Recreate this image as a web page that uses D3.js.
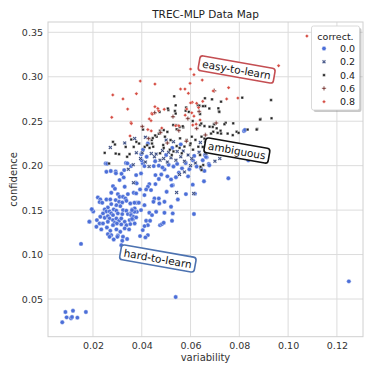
<!DOCTYPE html>
<html><head><meta charset="utf-8">
<script src="https://cdn.jsdelivr.net/npm/d3@7"></script>
<style>body{margin:0;background:#fff}svg{display:block}text{font-family:"DejaVu Sans",sans-serif}</style>
</head><body><svg id="c" width="374" height="374"></svg>
<script>
const title = "TREC-MLP Data Map";
const xLabel = "variability", yLabel = "confidence";
const xTicks = [0.02,0.04,0.06,0.08,0.10,0.12];
const yTicks = [0.05,0.10,0.15,0.20,0.25,0.30,0.35];
const classes = ["0.0","0.2","0.4","0.6","0.8"];
const colors = ["#4c6fd8","#3a4c80","#222222","#7b3a37","#d64f45"];

// correctness 0.0
const pts00 = [
[0.0074,0.0238],[0.0087,0.0354],[0.0092,0.0294],[0.0110,0.0283],[0.0114,0.0297],[0.0118,0.0368],[0.0136,0.0290],[0.0171,0.0354],
[0.0151,0.1120],[0.0539,0.0522],[0.1249,0.0699],
[0.0614,0.1456],[0.0755,0.1858],[0.0655,0.1824],[0.0609,0.1786],[0.0581,0.1680],[0.0618,0.1685],[0.0837,0.2060],[0.0819,0.2390],[0.0666,0.2094],[0.0675,0.2019],[0.0823,0.2401],
[0.0255,0.1931],[0.0293,0.1935],[0.0317,0.1909],[0.0326,0.1868],[0.0309,0.1838],[0.0375,0.1808],[0.0282,0.1770],[0.0290,0.1740],[0.0330,0.1763],
[0.0275,0.1695],[0.0302,0.1680],[0.0343,0.1680],[0.0367,0.1695],[0.0309,0.1650],[0.0323,0.1650],[0.0333,0.1631],[0.0220,0.1643],[0.0230,0.1620],
[0.0255,0.1620],[0.0271,0.1620],[0.0293,0.1613],[0.0307,0.1594],[0.0320,0.1586],[0.0337,0.1605],[0.0353,0.1575],[0.0380,0.1583],[0.0227,0.1590],
[0.0238,0.1583],[0.0275,0.1568],[0.0296,0.1556],[0.0312,0.1545],[0.0261,0.1530],[0.0248,0.1508],[0.0255,0.1485],[0.0268,0.1485],[0.0285,0.1508],
[0.0296,0.1493],[0.0323,0.1500],[0.0337,0.1493],[0.0361,0.1508],[0.0371,0.1519],[0.0196,0.1508],[0.0201,0.1485],[0.0241,0.1463],[0.0275,0.1463],
[0.0282,0.1444],[0.0302,0.1463],[0.0320,0.1455],[0.0343,0.1455],[0.0357,0.1470],[0.0380,0.1481],[0.0216,0.1388],[0.0230,0.1425],[0.0248,0.1414],
[0.0261,0.1433],[0.0268,0.1406],[0.0282,0.1388],[0.0296,0.1406],[0.0307,0.1380],[0.0316,0.1406],[0.0330,0.1369],[0.0350,0.1388],[0.0364,0.1395],
[0.0227,0.1350],[0.0241,0.1350],[0.0261,0.1369],[0.0289,0.1358],[0.0298,0.1350],[0.0316,0.1339],[0.0337,0.1331],[0.0353,0.1343],[0.0371,0.1350],
[0.0186,0.1369],[0.0214,0.1313],[0.0234,0.1283],[0.0257,0.1305],[0.0271,0.1268],[0.0296,0.1283],[0.0312,0.1256],[0.0330,0.1294],[0.0348,0.1283],
[0.0282,0.1331],[0.0261,0.1230],[0.0275,0.1219],[0.0285,0.1170],[0.0302,0.1215],[0.0323,0.1200],[0.0320,0.1155],[0.0268,0.1200],[0.0316,0.1106],
[0.0330,0.1080],[0.0195,0.1510],[0.0185,0.1370],[0.0300,0.1200],[0.0340,0.1175],
[0.0356,0.1995],[0.0404,0.2025],[0.0411,0.1995],[0.0377,0.1894],[0.0397,0.1913],[0.0456,0.1894],[0.0449,0.1995],[0.0493,0.1958],[0.0552,0.1920],
[0.0520,0.1845],[0.0527,0.1781],[0.0431,0.1793],[0.0425,0.1763],[0.0456,0.1793],[0.0418,0.1733],[0.0438,0.1725],[0.0393,0.1733],[0.0377,0.1688],
[0.0502,0.1706],[0.0411,0.1669],[0.0370,0.1583],[0.0388,0.1583],[0.0411,0.1556],[0.0452,0.1631],[0.0470,0.1631],[0.0448,0.1594],[0.0472,0.1575],
[0.0493,0.1594],[0.0548,0.1620],[0.0520,0.1538],[0.0527,0.1463],[0.0493,0.1470],[0.0459,0.1481],[0.0431,0.1470],[0.0442,0.1444],[0.0397,0.1500],
[0.0370,0.1481],[0.0360,0.1500],[0.0356,0.1444],[0.0366,0.1425],[0.0377,0.1418],[0.0360,0.1400],[0.0418,0.1380],[0.0434,0.1380],[0.0425,0.1331],
[0.0411,0.1320],[0.0475,0.1331],[0.0483,0.1343],[0.0490,0.1358],[0.0524,0.1380],[0.0404,0.1275],[0.0425,0.1219],[0.0415,0.1193],[0.0393,0.1208],
[0.0252,0.2024],[0.0425,0.2249],[0.0405,0.2180],[0.0398,0.2130],[0.0420,0.2100],[0.0335,0.2030],[0.0258,0.2022],[0.0273,0.1940],[0.0294,0.1914],
[0.0341,0.2026],[0.0328,0.1950],[0.0379,0.1801],[0.0400,0.2060],
[0.0455,0.2050],[0.0470,0.2000],[0.0485,0.1980],[0.0510,0.2010],[0.0530,0.1990],[0.0545,0.2020],[0.0565,0.1970],[0.0580,0.2030],[0.0595,0.1960],
[0.0610,0.2060],[0.0625,0.1990],[0.0500,0.2120],[0.0525,0.2200],[0.0560,0.2240],[0.0615,0.2110],[0.0659,0.2120],[0.0663,0.2099],[0.0650,0.2061],
[0.0677,0.2005],[0.0643,0.1968],[0.0657,0.1941],[0.0523,0.1776],[0.0470,0.1850],[0.0480,0.1900],[0.0505,0.1880],[0.0540,0.1870],[0.0590,0.1880]
];
// correctness 0.2
const pts02 = [
[0.0271,0.2204],[0.0330,0.2256],[0.0371,0.2305],[0.0378,0.2144],[0.0402,0.2144],[0.0439,0.2136],[0.0459,0.2130],[0.0452,0.2100],[0.0366,0.1808],
[0.0613,0.1688],[0.0543,0.1699],[0.0674,0.2174],[0.0663,0.2136],[0.0475,0.2060],[0.0490,0.2080],[0.0505,0.2040],[0.0520,0.2090],[0.0540,0.2060],
[0.0560,0.2100],[0.0575,0.2050],[0.0590,0.2120],[0.0605,0.2080],[0.0620,0.2030],[0.0635,0.2150],[0.0600,0.2000],[0.0485,0.2170],[0.0510,0.2150],
[0.0545,0.2160],[0.0570,0.2165],[0.0415,0.2040],[0.0430,0.1990],[0.0395,0.2080],[0.0575,0.1930],[0.0555,0.1900],[0.0700,0.2050],[0.0720,0.2080],
[0.0365,0.2010],[0.0345,0.1960],[0.0640,0.2260],[0.0530,0.2270],[0.0500,0.2290],[0.0415,0.2320]
];
// correctness 0.4
const pts04 = [
[0.0533,0.2780],[0.0812,0.2765],[0.0930,0.2738],[0.0688,0.2746],[0.0539,0.2679],[0.0630,0.2679],[0.0660,0.2670],[0.0716,0.2611],
[0.0659,0.2758],[0.0725,0.2720],[0.0636,0.2675],[0.0714,0.2645],[0.0509,0.2626],[0.0536,0.2615],[0.0580,0.2618],[0.0639,0.2581],[0.0887,0.2525],
[0.0932,0.2533],[0.0744,0.2483],[0.0775,0.2476],[0.0789,0.2382],[0.0873,0.2412],[0.0723,0.2393],[0.0707,0.2420],[0.0693,0.2382],[0.0639,0.2457],
[0.0609,0.2502],[0.0570,0.2431],[0.0543,0.2409],[0.0529,0.2457],[0.0475,0.2393],[0.0461,0.2326],[0.0495,0.2326],[0.0518,0.2288],[0.0557,0.2307],
[0.0584,0.2288],[0.0605,0.2326],[0.0645,0.2326],[0.0441,0.2288],[0.0447,0.2213],[0.0488,0.2232],[0.0543,0.2220],[0.0598,0.2232],[0.0632,0.2213],
[0.0475,0.2139],[0.0523,0.2120],[0.0564,0.2139],[0.0639,0.2120],[0.0652,0.2007],[0.0645,0.1951],[0.0641,0.1988],
[0.0405,0.2406],[0.0282,0.2268],[0.0290,0.2238],[0.0248,0.2144],[0.0293,0.2136],[0.0307,0.2129],[0.0334,0.2211],[0.0357,0.2294],[0.0378,0.2268],
[0.0389,0.2249],[0.0367,0.2211],[0.0412,0.2211],[0.0422,0.2230],[0.0432,0.2200],[0.0442,0.2249],[0.0266,0.2024],[0.0350,0.2130],[0.0340,0.2100],
[0.0507,0.2643],[0.0473,0.2605],[0.0539,0.2586],[0.0582,0.2654],[0.0593,0.2605],[0.0651,0.2669],[0.0644,0.2474],[0.0657,0.2445],[0.0678,0.2438],
[0.0696,0.2468],[0.0541,0.2455],[0.0555,0.2436],[0.0568,0.2443],[0.0505,0.2380],[0.0490,0.2400],[0.0470,0.2360],[0.0455,0.2340],[0.0445,0.2310],
[0.0490,0.2200],[0.0515,0.2180],[0.0530,0.2160],[0.0555,0.2200],[0.0575,0.2215],[0.0600,0.2250],[0.0610,0.2180],[0.0620,0.2290],[0.0660,0.2270],
[0.0680,0.2210],[0.0677,0.2643],[0.0718,0.2605],[0.0739,0.2466],[0.0834,0.2406],[0.0871,0.2406],[0.0885,0.2519],[0.0711,0.2369],[0.0725,0.2361],
[0.0752,0.2361],[0.0773,0.2343],[0.0797,0.2369],[0.0691,0.2436],[0.0698,0.2466],[0.0684,0.2361],[0.0657,0.2305],[0.0663,0.2268],[0.0650,0.2211]
];
// correctness 0.6
const pts06 = [
[0.0697,0.2843],[0.0453,0.2596],[0.0528,0.2551],[0.0589,0.2530],[0.0402,0.2440],[0.0477,0.2372],[0.0552,0.2395],[0.0625,0.2418],[0.0661,0.2345],
[0.0428,0.2305],[0.0583,0.2275],[0.0505,0.2255],[0.0635,0.2610],[0.0705,0.2480]
];
// correctness 0.8
const pts08 = [
[0.1077,0.3458],[0.0961,0.3124],[0.0600,0.3087],[0.0614,0.3023],[0.0648,0.2963],[0.0394,0.2952],[0.0454,0.2918],[0.0598,0.2926],[0.0559,0.2862],
[0.0577,0.2862],[0.0591,0.2814],[0.0281,0.2795],[0.0378,0.2809],[0.0693,0.2840],[0.0323,0.2750],[0.0342,0.2637],[0.0277,0.2544],[0.0356,0.2488],
[0.0454,0.2663],[0.0469,0.2618],[0.0492,0.2634],[0.0607,0.2713],[0.0625,0.2701],[0.0650,0.2724],[0.0482,0.2423],[0.0441,0.2589],[0.0431,0.2525],
[0.0438,0.2506],[0.0539,0.2449],[0.0552,0.2449],[0.0609,0.2457],[0.0639,0.2513],[0.0352,0.2334],[0.0756,0.2877],[0.0794,0.2761],[0.0748,0.2750],
[0.0584,0.2637],[0.0466,0.2643],[0.0578,0.2568],[0.0605,0.2594],[0.0614,0.2556],[0.0600,0.2706],[0.0633,0.2654],[0.0623,0.2466],[0.0443,0.2579],
[0.0425,0.2406],[0.0439,0.2391],[0.0357,0.2474]
];
const series = [pts00, pts02, pts04, pts06, pts08];
const notes = [
  {text:"easy-to-learn", x:0.0789, y:0.3082, ec:"#c44e52"},
  {text:"ambiguous", x:0.0790, y:0.2170, ec:"#111111"},
  {text:"hard-to-learn", x:0.0466, y:0.0956, ec:"#4c72b0"}
];

const svg = d3.select("#c");
const L=48, R=363, T=22, B=336.7;
const x = d3.scaleLinear().domain([0.00156,0.1307]).range([L,R]);
const y = d3.scaleLinear().domain([0.0076,0.3616]).range([B,T]);
const grid = "#dcdcdc";

const g = svg.append("g");
g.selectAll(".gx").data(xTicks).join("line").attr("x1",d=>x(d)).attr("x2",d=>x(d)).attr("y1",T).attr("y2",B).attr("stroke",grid).attr("stroke-width",1);
g.selectAll(".gy").data(yTicks).join("line").attr("y1",d=>y(d)).attr("y2",d=>y(d)).attr("x1",L).attr("x2",R).attr("stroke",grid).attr("stroke-width",1);
g.append("rect").attr("x",L).attr("y",T).attr("width",R-L).attr("height",B-T).attr("fill","none").attr("stroke","#d0d0d0").attr("stroke-width",1);

const xAxis = d3.axisBottom(x).tickValues(xTicks).tickFormat(d3.format(".2f")).tickSize(0).tickPadding(6);
const yAxis = d3.axisLeft(y).tickValues(yTicks).tickFormat(d3.format(".2f")).tickSize(0).tickPadding(5);
const gx = svg.append("g").attr("transform",`translate(0,${B})`).call(xAxis);
const gy = svg.append("g").attr("transform",`translate(${L},0)`).call(yAxis);
[gx,gy].forEach(a=>{a.select(".domain").remove();a.selectAll("text").attr("font-size",9.5).attr("fill","#333").attr("font-family","DejaVu Sans");});

svg.append("text").attr("x",(L+R)/2).attr("y",18).attr("text-anchor","middle").attr("font-size",10.5).attr("fill","#222").text(title);
svg.append("text").attr("x",(L+R)/2).attr("y",361).attr("text-anchor","middle").attr("font-size",10).attr("fill","#333").text(xLabel);
svg.append("text").attr("transform",`translate(17,${(T+B)/2}) rotate(-90)`).attr("text-anchor","middle").attr("font-size",10).attr("fill","#333").text(yLabel);

const shapes = [
  d3.symbol().type(d3.symbolCircle).size(15),
  d3.symbol().type(d3.symbolCross).size(10),
  d3.symbol().type(d3.symbolSquare).size(7),
  d3.symbol().type(d3.symbolCross).size(10),
  d3.symbol().type(d3.symbolSquare).size(7)
];
const rot = [0,45,0,0,45];
const pg = svg.append("g");
series.forEach((pts,i)=>{
  pg.append("g").selectAll("path").data(pts).join("path")
    .attr("d",shapes[i]())
    .attr("transform",d=>`translate(${x(d[0])},${y(d[1])}) rotate(${rot[i]})`)
    .attr("fill",colors[i]).attr("stroke","#fff").attr("stroke-width",0.4);
});

notes.forEach(n=>{
  const ng = svg.append("g").attr("transform",`translate(${x(n.x)},${y(n.y)}) rotate(10)`);
  const t = ng.append("text").attr("text-anchor","middle").attr("dominant-baseline","central").attr("font-size",10.5).attr("fill","#111").text(n.text);
  const bb = t.node().getBBox();
  ng.insert("rect","text").attr("x",bb.x-3.5).attr("y",bb.y-1.5).attr("width",bb.width+7).attr("height",bb.height+3)
    .attr("rx",3).attr("fill","#fff").attr("stroke",n.ec).attr("stroke-width",1.6);
});

// legend
const lg = svg.append("g");
lg.append("rect").attr("x",313.5).attr("y",28).attr("width",48).attr("height",84).attr("rx",2).attr("fill","#888").attr("opacity",0.45);
lg.append("rect").attr("x",311.5).attr("y",26).attr("width",48).attr("height",84).attr("rx",2).attr("fill","#fff").attr("stroke","#d0d0d0").attr("stroke-width",0.8);
lg.append("text").attr("x",335.5).attr("y",40).attr("text-anchor","middle").attr("font-size",9.5).attr("fill","#222").text("correct.");
classes.forEach((c,i)=>{
  const yy = 48.5 + i*13.3;
  lg.append("path").attr("d",shapes[i]()).attr("transform",`translate(324,${yy}) rotate(${rot[i]})`).attr("fill",colors[i]).attr("stroke","#fff").attr("stroke-width",0.4);
  lg.append("text").attr("x",355).attr("y",yy).attr("dominant-baseline","central").attr("text-anchor","end").attr("font-size",9.5).attr("fill","#222").text(c);
});
</script></body></html>
